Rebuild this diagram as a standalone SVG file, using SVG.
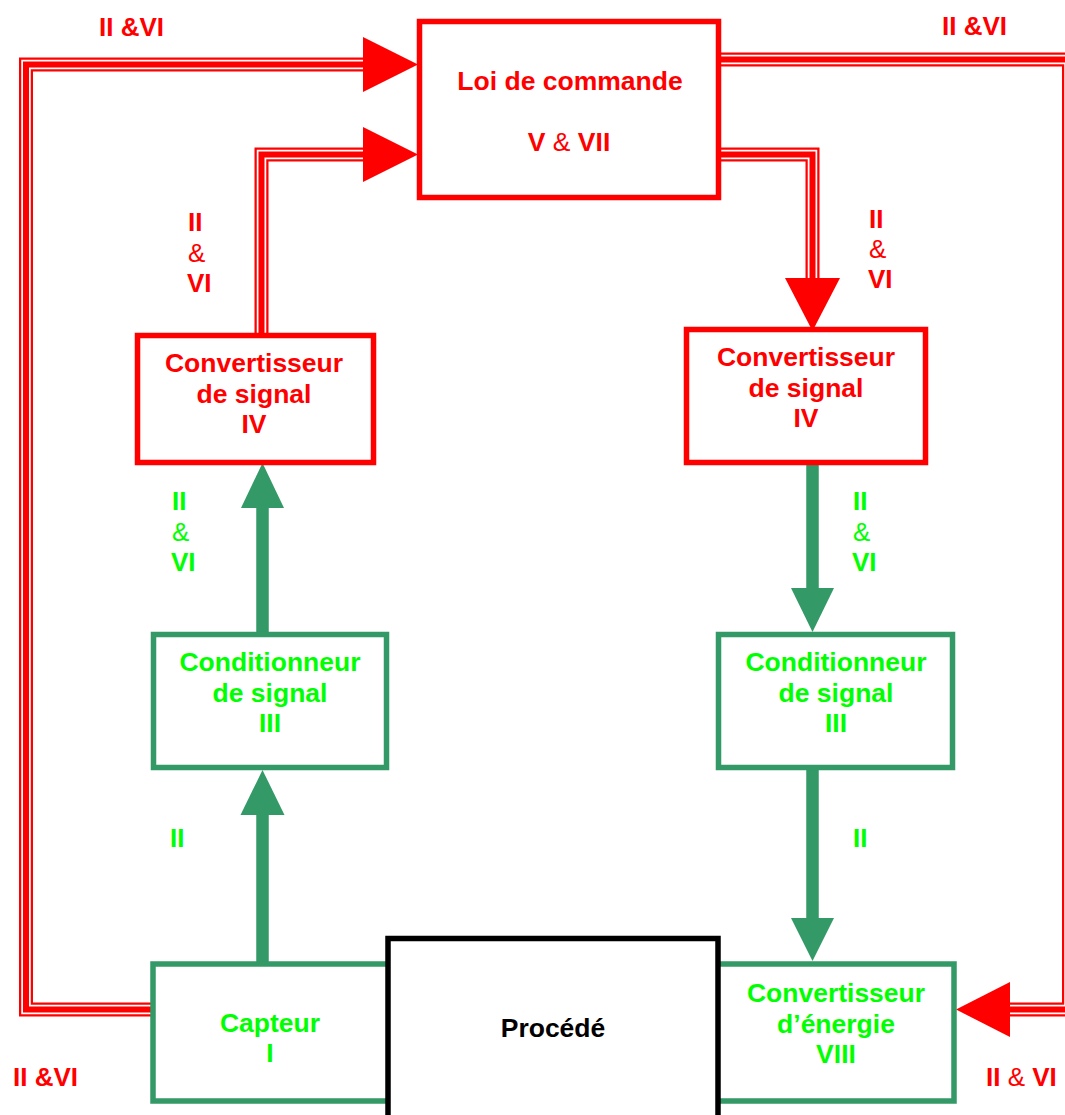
<svg xmlns="http://www.w3.org/2000/svg" xmlns:xlink="http://www.w3.org/1999/xlink" width="1065" height="1115" viewBox="0 0 1065 1115">
<style>
text{font-family:"Liberation Sans",Arial,sans-serif;font-weight:bold;font-size:26px}
.box text{font-size:26.5px;text-anchor:middle}
.red{fill:#ff0000}
.grn{fill:#00ff00}
.blk{fill:#000}
.reg{font-weight:normal}
.rbox{fill:#fff;stroke:#ff0000;stroke-width:5.5}
.gbox{fill:#fff;stroke:#339966;stroke-width:5.5}
.kbox{fill:#fff;stroke:#000;stroke-width:5.5}
.c1{fill:none;stroke:#ff0000;stroke-width:14;stroke-linejoin:miter}
.c2{fill:none;stroke:#fff;stroke-width:9.5;stroke-linejoin:miter}
.c3{fill:none;stroke:#ff0000;stroke-width:6;stroke-linejoin:miter}
.rh{fill:#ff0000}
.gs{stroke:#339966;stroke-width:12.5}
.gh{fill:#339966}
</style>
<defs>
<path id="p1" d="M152,1009.5 H26 V64.5 H366"/>
<path id="p2" d="M261.5,335 V154.5 H366"/>
<path id="p3" d="M721,59.5 H1069 V1009.5 H1008"/>
<path id="p4" d="M721,154.5 H812.5 V281"/>
</defs>
<g id="connectors">
<use xlink:href="#p1" class="c1"/><use xlink:href="#p1" class="c2"/><use xlink:href="#p1" class="c3"/>
<use xlink:href="#p2" class="c1"/><use xlink:href="#p2" class="c2"/><use xlink:href="#p2" class="c3"/>
<use xlink:href="#p3" class="c1"/><use xlink:href="#p3" class="c2"/><use xlink:href="#p3" class="c3"/>
<use xlink:href="#p4" class="c1"/><use xlink:href="#p4" class="c2"/><use xlink:href="#p4" class="c3"/>
<polygon class="rh" points="363,37 418,64.5 363,92"/>
<polygon class="rh" points="363,127 418,154.5 363,182"/>
<polygon class="rh" points="1010,982 956,1009.5 1010,1037"/>
<polygon class="rh" points="785,278 812.5,331 840,278"/>
<line class="gs" x1="262.5" y1="962" x2="262.5" y2="812"/>
<polygon class="gh" points="240.5,815 262.5,770 284.5,815"/>
<line class="gs" x1="262.5" y1="633" x2="262.5" y2="505"/>
<polygon class="gh" points="241,508 262.5,463 284,508"/>
<line class="gs" x1="812.5" y1="464" x2="812.5" y2="590"/>
<polygon class="gh" points="791,588 812.5,632 834,588"/>
<line class="gs" x1="812.5" y1="769" x2="812.5" y2="920"/>
<polygon class="gh" points="791,918 812.5,961 834,918"/>
</g>
<g id="labels">
<text class="red" x="99" y="36">II &amp;VI</text>
<text class="red" x="942" y="35">II &amp;VI</text>
<text class="red" x="13" y="1086">II &amp;VI</text>
<text class="red" x="986" y="1086">II <tspan class="reg">&amp;</tspan> VI</text>
<text class="red" x="188" y="231">II</text>
<text class="red reg" x="188" y="262">&amp;</text>
<text class="red" x="187" y="292">VI</text>
<text class="red" x="869" y="228">II</text>
<text class="red reg" x="869" y="258">&amp;</text>
<text class="red" x="868" y="288">VI</text>
<text class="grn" x="172" y="510">II</text>
<text class="grn reg" x="172" y="541">&amp;</text>
<text class="grn" x="171" y="571">VI</text>
<text class="grn" x="853" y="510">II</text>
<text class="grn reg" x="853" y="541">&amp;</text>
<text class="grn" x="852" y="571">VI</text>
<text class="grn" x="170" y="847">II</text>
<text class="grn" x="853" y="847">II</text>
</g>
<g id="loi" class="box">
<rect class="rbox" x="419.5" y="21.5" width="299" height="176"/>
<text class="red" x="570" y="90">Loi de commande</text>
<text class="red" x="569" y="151">V <tspan class="reg">&amp;</tspan> VII</text>
</g>
<g id="conv-signal-left" class="box">
<rect class="rbox" x="137.5" y="335.5" width="236" height="127"/>
<text class="red" x="254" y="372">Convertisseur</text>
<text class="red" x="254" y="403">de signal</text>
<text class="red" x="254" y="433">IV</text>
</g>
<g id="conv-signal-right" class="box">
<rect class="rbox" x="686.5" y="329.5" width="239" height="133"/>
<text class="red" x="806" y="366">Convertisseur</text>
<text class="red" x="806" y="397">de signal</text>
<text class="red" x="806" y="427">IV</text>
</g>
<g id="cond-left" class="box">
<rect class="gbox" x="153.5" y="634.5" width="233" height="133"/>
<text class="grn" x="270" y="671">Conditionneur</text>
<text class="grn" x="270" y="702">de signal</text>
<text class="grn" x="270" y="732">III</text>
</g>
<g id="cond-right" class="box">
<rect class="gbox" x="718.5" y="634.5" width="234" height="133"/>
<text class="grn" x="836" y="671">Conditionneur</text>
<text class="grn" x="836" y="702">de signal</text>
<text class="grn" x="836" y="732">III</text>
</g>
<g id="capteur" class="box">
<rect class="gbox" x="153" y="964" width="270" height="137"/>
<text class="grn" x="270" y="1032">Capteur</text>
<text class="grn" x="270" y="1062">I</text>
</g>
<g id="conv-energie" class="box">
<rect class="gbox" x="690" y="964" width="264" height="137"/>
<text class="grn" x="836" y="1002">Convertisseur</text>
<text class="grn" x="836" y="1033">d’énergie</text>
<text class="grn" x="836" y="1063">VIII</text>
</g>
<g id="procede" class="box">
<rect class="kbox" x="388" y="938.5" width="330" height="200"/>
<text class="blk" x="553" y="1037">Procédé</text>
</g>
</svg>
